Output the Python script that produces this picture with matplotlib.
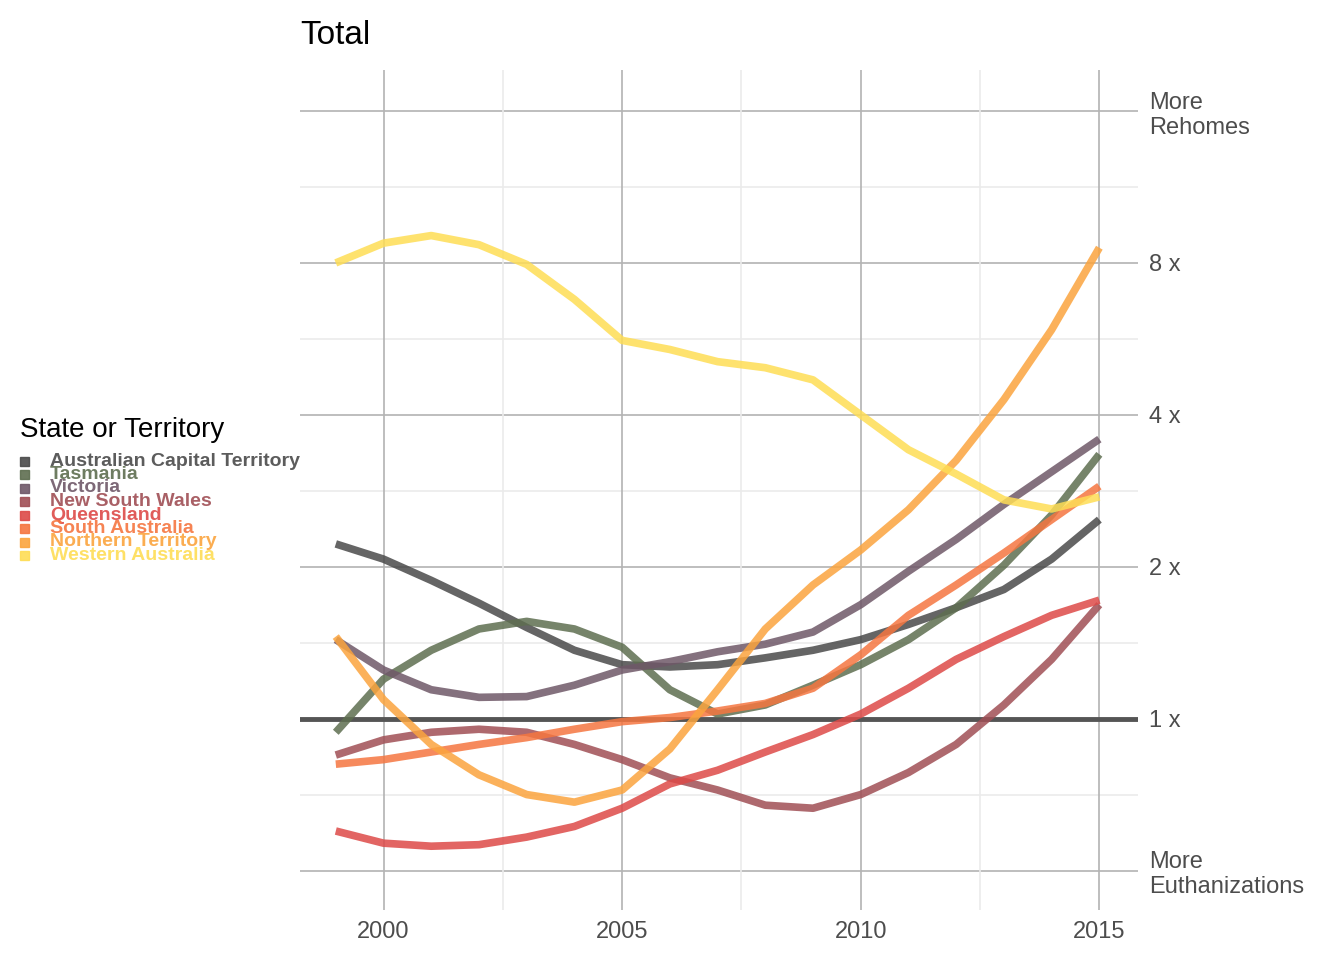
import numpy as np
import matplotlib.pyplot as plt

plt.rcParams['font.family'] = ['Liberation Sans', 'DejaVu Sans']

years = np.arange(1999, 2016)
states = ["Australian Capital Territory", "Tasmania", "Victoria", "New South Wales",
          "Queensland", "South Australia", "Northern Territory", "Western Australia"]
colors = ["#4a4a4a", "#5e6e50", "#6f5868", "#a04f55", "#dd4a48", "#f57640", "#fba43e", "#fedd55"]

# log2 of ratio
act = [1.15, 1.05, 0.91, 0.76, 0.6, 0.45, 0.355, 0.34, 0.355, 0.40, 0.45, 0.52, 0.62, 0.73, 0.85, 1.05, 1.31]
tas = [-0.09, 0.26, 0.45, 0.59, 0.64, 0.59, 0.47, 0.19, 0.03, 0.09, 0.22, 0.355, 0.52, 0.73, 1.01, 1.34, 1.74]
vic = [0.52, 0.32, 0.19, 0.14, 0.145, 0.22, 0.32, 0.375, 0.44, 0.49, 0.57, 0.75, 0.97, 1.18, 1.41, 1.625, 1.84]
nsw = [-0.24, -0.14, -0.09, -0.07, -0.09, -0.17, -0.27, -0.39, -0.47, -0.57, -0.59, -0.5, -0.355, -0.17, 0.09, 0.39, 0.75]
qld = [-0.74, -0.82, -0.84, -0.83, -0.78, -0.71, -0.59, -0.43, -0.34, -0.22, -0.105, 0.03, 0.2, 0.39, 0.54, 0.68, 0.78]
sa = [-0.30, -0.27, -0.22, -0.17, -0.125, -0.07, -0.02, 0.007, 0.05, 0.1, 0.2, 0.42, 0.68, 0.88, 1.09, 1.31, 1.53]
nt = [0.54, 0.125, -0.17, -0.37, -0.5, -0.55, -0.47, -0.2, 0.19, 0.59, 0.88, 1.11, 1.375, 1.70, 2.1, 2.56, 3.1]
wa = [3.0, 3.13, 3.18, 3.12, 2.99, 2.76, 2.49, 2.43, 2.35, 2.31, 2.23, 2.0, 1.77, 1.61, 1.44, 1.38, 1.46]
series = [act, tas, vic, nsw, qld, sa, nt, wa]

fig = plt.figure(figsize=(13.44, 9.6), dpi=100)
ax = fig.add_axes([300/1344, 50/960, 838/1344, 840/960])
ax.set_xlim(1998.25, 2015.81)
ax.set_ylim(-1.26, 4.27)

for y in [-0.5, 0.5, 1.5, 2.5, 3.5]:
    ax.axhline(y, color="#ebebeb", lw=1.2, zorder=0)
for y in [-1, 0, 1, 2, 3, 4]:
    ax.axhline(y, color="#b3b3b3", lw=1.2, zorder=0)
for x in [2002.5, 2007.5, 2012.5]:
    ax.axvline(x, color="#ebebeb", lw=1.2, zorder=0)
for x in [2000, 2005, 2010, 2015]:
    ax.axvline(x, color="#b3b3b3", lw=1.2, zorder=0)

ax.axhline(0, color="#555555", lw=3.5, zorder=1)
for s, c in zip(series, colors):
    ax.plot(years, s, color=c, lw=5.5, alpha=0.85, solid_capstyle="butt", zorder=2)

for sp in ax.spines.values():
    sp.set_visible(False)
ax.set_xticks([2000, 2005, 2010, 2015])
ax.tick_params(axis="x", length=0, labelsize=17, labelcolor="#4d4d4d", pad=8)
ax.set_yticks([-1, 0, 1, 2, 3, 4])
ax.set_yticklabels(["More\nEuthanizations", "1 x", "2 x", "4 x", "8 x", "More\nRehomes"])
ax.yaxis.tick_right()
ax.tick_params(axis="y", length=0, labelsize=17, labelcolor="#4d4d4d", pad=8)
for t in ax.get_yticklabels():
    t.set_horizontalalignment("left")

fig.text(300/1344, 1 - 35/960, "Total", fontsize=24, va="center")

fig.text(20/1344, 1 - 430/960, "State or Territory", fontsize=20, va="center")
for i, (lab, c) in enumerate(zip(states, colors)):
    yp = 1 - (461 + i * 13.5) / 960
    fig.patches.append(plt.Rectangle((20/1344, yp - 4.5/960), 9/1344, 9/960,
                                     transform=fig.transFigure, color=c, alpha=0.9))
    fig.text(50/1344, yp, lab, fontsize=14, fontweight="bold", color=c, alpha=0.9,
             va="center")

fig.savefig("out.png", dpi=100)
